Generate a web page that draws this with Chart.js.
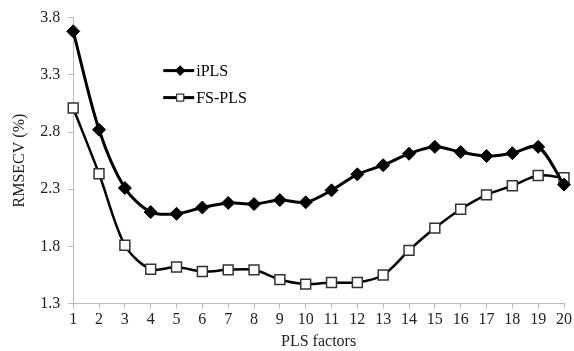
<!DOCTYPE html>
<html>
<head>
<meta charset="utf-8">
<script src="https://cdn.jsdelivr.net/npm/chart.js@4.4.1/dist/chart.umd.min.js"></script>
<style>
  html, body { margin: 0; padding: 0; background: #fff; }
  #wrap { width: 574px; height: 351px; }
</style>
</head>
<body>
<div id="wrap"><canvas id="rmsecvChart" width="574" height="351"></canvas></div>
<script>
    var factors = ['1','2','3','4','5','6','7','8','9','10','11','12','13','14','15','16','17','18','19','20'];
    var ipls = [3.68, 2.82, 2.31, 2.10, 2.085, 2.14, 2.18, 2.17, 2.205, 2.185, 2.29, 2.43, 2.51, 2.61, 2.67, 2.625, 2.59, 2.615, 2.67, 2.34];
    var fspls = [3.01, 2.435, 1.81, 1.60, 1.62, 1.58, 1.595, 1.595, 1.51, 1.47, 1.485, 1.485, 1.55, 1.765, 1.96, 2.125, 2.25, 2.33, 2.42, 2.40];
    var seriesNames = ['iPLS', 'FS-PLS'];

    var serif = "'Liberation Serif', 'DejaVu Serif', serif";

    // legend drawn inside the plot, line + marker like the original
    var insideLegend = {
        id: 'insideLegend',
        afterDraw: function(chart) {
            var ctx = chart.ctx;
            var area = chart.chartArea;
            var x0 = area.left + 90;
            var y0 = area.top + 53;
            chart.data.datasets.forEach(function(ds, i) {
                var y = y0 + i * 27;
                ctx.save();
                ctx.strokeStyle = '#000';
                ctx.lineWidth = 3;
                ctx.beginPath();
                ctx.moveTo(x0, y);
                ctx.lineTo(x0 + 31, y);
                ctx.stroke();
                ctx.fillStyle = ds.pointBackgroundColor;
                ctx.strokeStyle = ds.pointBorderColor;
                ctx.lineWidth = 1.2;
                Chart.helpers.drawPoint(ctx, {
                    pointStyle: ds.pointStyle,
                    radius: ds.pointStyle === 'rect' ? 5 : 4.5,
                    borderWidth: 1.2,
                    rotation: 0
                }, x0 + 17, y);
                ctx.fillStyle = '#000';
                ctx.font = '16px ' + serif;
                ctx.textBaseline = 'middle';
                ctx.fillText(ds.label, x0 + 33, y + 1);
                ctx.restore();
            });
        }
    };

    var ctx = document.getElementById('rmsecvChart').getContext('2d');

    new Chart(ctx, {
        type: 'line',
        data: {
            labels: factors,
            datasets: [
                {
                    label: seriesNames[0],
                    data: ipls,
                    borderColor: '#000',
                    borderWidth: 3,
                    tension: 0.3,
                    pointStyle: 'rectRot',
                    pointRadius: 6.5,
                    pointBackgroundColor: '#000',
                    pointBorderColor: '#000',
                    pointBorderWidth: 1
                },
                {
                    label: seriesNames[1],
                    data: fspls,
                    borderColor: '#000',
                    borderWidth: 2.5,
                    tension: 0.3,
                    pointStyle: 'rect',
                    pointRadius: 7,
                    pointBackgroundColor: '#fff',
                    pointBorderColor: '#333',
                    pointBorderWidth: 1.5
                }
            ]
        },
        options: {
            responsive: false,
            animation: false,
            layout: { padding: { top: 16, right: 6, left: 10, bottom: 0 } },
            plugins: {
                legend: { display: false },
                tooltip: { enabled: false }
            },
            scales: {
                x: {
                    offset: false,
                    grid: { drawOnChartArea: false, color: '#bbb', tickLength: 5 },
                    border: { color: '#bbb' },
                    ticks: { color: '#222', font: { family: serif, size: 16 }, maxRotation: 0, autoSkip: false, padding: 2 },
                    title: { display: true, text: 'PLS factors', color: '#222', font: { family: serif, size: 16 }, padding: { top: 0, bottom: 0 } }
                },
                y: {
                    min: 1.3,
                    max: 3.8,
                    grid: { drawOnChartArea: false, color: '#bbb', tickLength: 5 },
                    border: { color: '#bbb' },
                    ticks: {
                        stepSize: 0.5,
                        color: '#222',
                        font: { family: serif, size: 16 },
                        padding: 8,
                        callback: function(v) { return v.toFixed(1); }
                    },
                    title: { display: true, text: 'RMSECV (%)', color: '#222', font: { family: serif, size: 16 }, padding: { top: 0, bottom: 3 } }
                }
            }
        },
        plugins: [insideLegend]
    });
</script>
</body>
</html>
